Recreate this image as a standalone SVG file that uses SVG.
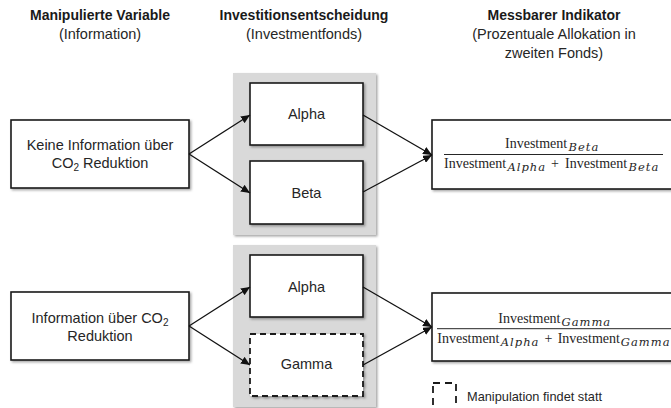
<svg xmlns="http://www.w3.org/2000/svg" width="671" height="408" viewBox="0 0 671 408">
<defs>
<filter id="sh" x="-10%" y="-10%" width="130%" height="130%">
<feDropShadow dx="1.5" dy="1.5" stdDeviation="1" flood-color="#000" flood-opacity="0.35"/>
</filter>
<marker id="ah" markerWidth="10" markerHeight="8" refX="9" refY="4" orient="auto" markerUnits="userSpaceOnUse">
<path d="M0,0 L9,4 L0,8 Z" fill="#111"/>
</marker>
<style>
.hd{font-family:"Liberation Sans",Arial,sans-serif;font-size:14px;font-weight:bold;fill:#1a1a1a;text-anchor:middle}
.sub{font-family:"Liberation Sans",Arial,sans-serif;font-size:14.5px;fill:#262626;text-anchor:middle}
.t{font-family:"Liberation Sans",Arial,sans-serif;font-size:14.5px;fill:#262626;text-anchor:middle}
.box{fill:#fff;stroke:#1a1a1a;stroke-width:1.6;filter:url(#sh)}
.dbox{fill:#fff;stroke:#1a1a1a;stroke-width:1.8;stroke-dasharray:6 4;filter:url(#sh)}
.panel{fill:#d9d9d9;filter:url(#sh)}
.m{font-family:"Liberation Serif","Times New Roman",serif;font-size:14px;fill:#262626}
.mi{font-family:"DejaVu Serif","Liberation Serif",serif;font-size:11.5px;font-style:italic;letter-spacing:1px}
.con line{stroke:#111;stroke-width:1.3;marker-end:url(#ah)}
.leg{font-family:"Liberation Sans",Arial,sans-serif;font-size:12.8px;fill:#262626}
</style>
</defs>
<rect width="671" height="408" fill="#fff"/>

<g id="headers">
<text class="hd" x="100" y="19.5">Manipulierte Variable</text>
<text class="sub" x="100" y="39">(Information)</text>
<text class="hd" x="304" y="19.5">Investitionsentscheidung</text>
<text class="sub" x="304" y="39">(Investmentfonds)</text>
<text class="hd" x="554" y="19.5">Messbarer Indikator</text>
<text class="sub" x="554" y="38.5">(Prozentuale Allokation in</text>
<text class="sub" x="554" y="57.5">zweiten Fonds)</text>
</g>

<g id="panel-top"><rect class="panel" x="233" y="73" width="143" height="162"/></g>
<g id="panel-bottom"><rect class="panel" x="233" y="245" width="143" height="162"/></g>

<g id="node-keine-info">
<rect class="box" x="11" y="120" width="178" height="68"/>
<text class="t" x="100" y="150">Keine Information über</text>
<text class="t" x="100" y="168">CO<tspan font-size="10" dy="3">2</tspan><tspan dy="-3"> Reduktion</tspan></text>
</g>

<g id="node-alpha-1">
<rect class="box" x="250" y="83" width="113" height="62"/>
<text class="t" x="306.5" y="119">Alpha</text>
</g>
<g id="node-beta">
<rect class="box" x="250" y="161" width="113" height="63"/>
<text class="t" x="306.5" y="198">Beta</text>
</g>

<g id="node-indikator-1">
<rect class="box" x="432" y="120" width="246" height="69"/>
<text class="m" y="148.3"><tspan x="505">Investment</tspan><tspan class="mi" x="568.5" dy="3">Beta</tspan></text>
<line x1="444" y1="154.5" x2="663" y2="154.5" stroke="#262626" stroke-width="1"/>
<text class="m" y="168.3"><tspan x="444">Investment</tspan><tspan class="mi" x="507.5" dy="3">Alpha</tspan><tspan x="551" dy="-3">+</tspan><tspan x="565">Investment</tspan><tspan class="mi" x="628.5" dy="3">Beta</tspan></text>
</g>

<g id="node-info">
<rect class="box" x="11" y="292" width="178" height="68"/>
<text class="t" x="100" y="323">Information über CO<tspan font-size="10" dy="3">2</tspan></text>
<text class="t" x="100" y="341">Reduktion</text>
</g>

<g id="node-alpha-2">
<rect class="box" x="250" y="255" width="113" height="62"/>
<text class="t" x="306.5" y="292">Alpha</text>
</g>
<g id="node-gamma">
<rect class="dbox" x="250" y="334" width="113" height="62"/>
<text class="t" x="306.5" y="369">Gamma</text>
</g>

<g id="node-indikator-2">
<rect class="box" x="432" y="293" width="246" height="68"/>
<text class="m" y="322.7"><tspan x="498.3">Investment</tspan><tspan class="mi" x="561.5" dy="3">Gamma</tspan></text>
<line x1="437" y1="328.7" x2="671" y2="328.7" stroke="#262626" stroke-width="1"/>
<text class="m" y="342.7"><tspan x="437.3">Investment</tspan><tspan class="mi" x="500.8" dy="3">Alpha</tspan><tspan x="544.5" dy="-3">+</tspan><tspan x="557.7">Investment</tspan><tspan class="mi" x="620.8" dy="3">Gamma</tspan></text>
</g>

<g id="legend">
<rect x="433" y="383" width="23" height="30" fill="none" stroke="#1a1a1a" stroke-width="1.8" stroke-dasharray="7 5"/>
<text class="leg" x="467" y="401" textLength="135" lengthAdjust="spacingAndGlyphs">Manipulation findet statt</text>
</g>

<g id="connectors" class="con">
<line x1="189" y1="154" x2="250" y2="115"/>
<line x1="189" y1="154" x2="250" y2="193"/>
<line x1="363" y1="115" x2="432" y2="155"/>
<line x1="363" y1="192" x2="432" y2="155"/>
<line x1="189" y1="326" x2="250" y2="287"/>
<line x1="189" y1="326" x2="250" y2="365"/>
<line x1="363" y1="287" x2="432" y2="327"/>
<line x1="363" y1="365" x2="432" y2="327"/>
</g>
</svg>
